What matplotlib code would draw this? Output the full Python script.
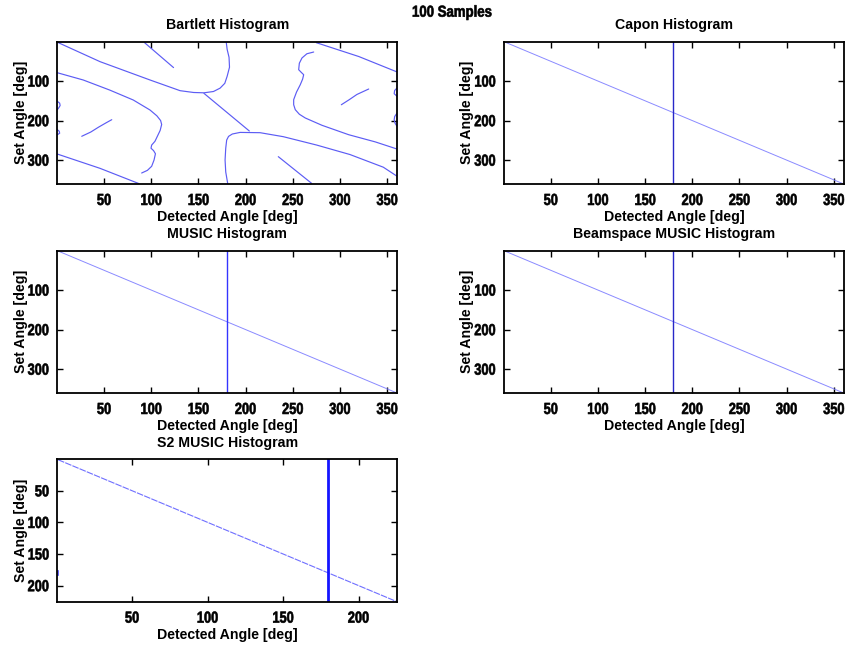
import numpy as np
import matplotlib
matplotlib.use("Agg")
import matplotlib.pyplot as plt
from matplotlib.patheffects import AbstractPathEffect
from matplotlib.transforms import Affine2D

TICK_FONT = ["Liberation Sans", "DejaVu Sans"]
LABEL_FONT = ["Liberation Sans", "DejaVu Sans"]

# ---- Histogram ridges: (detected angle, set angle) pairs in degrees ----
n_full = 360
n_s2 = 225

# Bartlett estimator: ambiguous ridges
bart_curves = [
    # upper-left band turning into the vertical ridge near 180 deg
    ([1.6, 45.8, 98.8, 130.6, 145.0, 156.0, 166.0, 173.0, 178.0, 180.5, 183.0, 182.5, 180.5, 179.5],
     [3, 51, 97.4, 124.4, 129.0, 129.8, 126.5, 118.0, 105.8, 88.0, 65.0, 40.0, 20.0, 1]),
    # left band bending back near 110 deg
    ([0.5, 28.0, 56.0, 81.0, 98.8, 106.0, 110.0, 111.1, 109.5, 106.5, 104.0, 100.5, 99.8, 102.5, 104.5, 103.0, 100.5, 96.0, 89.9],
     [79, 97.4, 122.8, 148, 173.4, 188.0, 200.0, 210.0, 225.0, 240.0, 252.5, 262.0, 270.0, 276.0, 284.0, 300.0, 315.7, 326.0, 332.7]),
    # lower-left band
    ([0.5, 45.8, 87.0],
     [284.7, 320.9, 359.5]),
    # short segment, left middle
    ([26.4, 36.0, 44.0, 52.0, 58.2],
     [239.8, 229.0, 217.0, 206.0, 197.8]),
    # short segment, top
    ([93.0, 123.7],
     [3, 66]),
    # central diagonal
    ([155.9, 204.0],
     [131.1, 226.4]),
    # lower vertical ridge near 180 deg turning into the lower-right band
    ([181.1, 179.0, 178.3, 179.0, 180.0, 182.0, 186.0, 194.2, 215.4, 240.0, 275.4, 310.7, 346.0, 360.0],
     [359.5, 330.0, 299.9, 270.0, 249.3, 240.0, 234.0, 230.0, 230.7, 240.8, 262.0, 286.0, 318.0, 340.0]),
    # right wiggly ridge near 255 deg
    ([272.2, 265.0, 259.8, 257.0, 256.3, 259.0, 261.6, 260.5, 258.0, 254.0, 251.0, 251.0, 252.7, 257.0, 263.3, 281.0, 309.3, 337.5, 360.5],
     [26.6, 31.0, 41.7, 55.0, 71.3, 78.0, 84.0, 95.0, 109.3, 128.0, 147.2, 160.0, 172.5, 184.0, 193.5, 212.0, 235.8, 254.0, 272.0]),
    # short segment, bottom right
    ([234.7, 270.0],
     [291.3, 358.8]),
    # upper-right band
    ([275.0, 320.0, 360.0],
     [3, 38.0, 76.5]),
    # short segment, right middle
    ([301.5, 310.0, 318.0, 330.5],
     [160.0, 147.0, 134.0, 120.2]),
    # wrap-around fragments at the edges
    ([0.5, 3.0, 3.5, 2.0, 0.5], [151.3, 156.0, 162.0, 168.0, 172.5]),
    ([0.5, 2.5, 3.0, 0.5], [223.0, 227.0, 232.0, 236.0]),
    ([360.5, 358.0, 357.5, 360.5], [117.6, 124.0, 132.0, 138.6]),
    ([360.5, 358.0, 357.5, 358.5, 360.5], [181.0, 190.0, 198.0, 207.0, 214.5]),
]

# Capon / MUSIC / Beamspace MUSIC: correct detections plus a fixed 180 deg ridge
diag_full_detected = [1, 360]
diag_full_set = [1, 360]
ridge_detected = 180

# S2 MUSIC
diag_s2_detected = [1, 225]
diag_s2_set = [1, 225]
s2_edge_detected = [1, 1]
s2_edge_set = [177, 183]

full_xticks = [50, 100, 150, 200, 250, 300, 350]
full_yticks = [100, 200, 300]
s2_xticks = [50, 100, 150, 200]
s2_yticks = [50, 100, 150, 200]


class TallHeavy(AbstractPathEffect):
    """Stretch glyphs vertically about the top or centre and thicken them."""

    def __init__(self, sy=1.25, anchor="center", stroke=0.45):
        super().__init__()
        self.sy = sy
        self.anchor = anchor
        self.stroke = stroke

    def draw_path(self, renderer, gc, tpath, affine, rgbFace=None):
        bb = tpath.get_extents(affine)
        cy = bb.y1 if self.anchor == "top" else 0.5 * (bb.y0 + bb.y1)
        stretch = Affine2D().translate(0, -cy).scale(1, self.sy).translate(0, cy)
        gc0 = renderer.new_gc()
        gc0.copy_properties(gc)
        gc0.set_linewidth(self.stroke)
        gc0.set_foreground(rgbFace if rgbFace is not None else "black")
        renderer.draw_path(gc0, tpath, affine + stretch, rgbFace)
        gc0.restore()


fig = plt.figure(figsize=(8.47, 6.48), dpi=100)
TICK_SIZE = 9.2


def make_axes(rect, title, n, xticks, yticks):
    ax = fig.add_axes(rect)
    ax.set_xlim(0.5, n + 0.5)
    ax.set_ylim(n + 0.5, 0.5)
    ax.set_xticks(xticks)
    ax.set_yticks(yticks)
    ax.tick_params(direction="in", length=4, width=1, top=True, right=True)
    ax.tick_params(axis="x", pad=7)
    ax.tick_params(axis="y", pad=6)
    for lab in ax.get_xticklabels():
        lab.set_family(TICK_FONT)
        lab.set_fontweight("bold")
        lab.set_fontsize(TICK_SIZE)
        lab.set_path_effects([TallHeavy(1.25, "top")])
    for lab in ax.get_yticklabels():
        lab.set_family(TICK_FONT)
        lab.set_fontweight("bold")
        lab.set_fontsize(TICK_SIZE)
        lab.set_path_effects([TallHeavy(1.25, "center")])
    for sp in ax.spines.values():
        sp.set_linewidth(1.3)
    ax.set_title(title, family=LABEL_FONT, fontweight="bold", fontsize=10.2, pad=9)
    ax.set_xlabel("Detected Angle [deg]", family=LABEL_FONT, fontweight="bold",
                  fontsize=10.2)
    ax.set_ylabel("Set Angle [deg]", family=LABEL_FONT, fontweight="bold",
                  fontsize=10.2)
    ax.xaxis.set_label_coords(0.5, -0.183)
    ax.yaxis.set_label_coords(-0.087, 0.5)
    return ax


W = 339.7 / 847
H = 142.3 / 648
L1 = 57.3 / 847
L2 = 504.0 / 847
B1 = (648 - 184.0) / 648
B2 = (648 - 393.0) / 648
B3 = (648 - 601.7) / 648

light = "#8a8aff"

ax = make_axes([L1, B1, W, H], "Bartlett Histogram", n_full, full_xticks, full_yticks)
for xs, ys in bart_curves:
    ax.plot(xs, ys, color="#5c5cf4", lw=0.85, solid_capstyle="round",
            solid_joinstyle="round")

ax = make_axes([L2, B1, W, H], "Capon Histogram", n_full, full_xticks, full_yticks)
ax.plot(diag_full_detected, diag_full_set, color=light, lw=0.7)
ax.axvline(ridge_detected, color="#2828c8", lw=1.0)

ax = make_axes([L1, B2, W, H], "MUSIC Histogram", n_full, full_xticks, full_yticks)
ax.plot(diag_full_detected, diag_full_set, color=light, lw=0.7)
ax.axvline(ridge_detected, color="#3434ff", lw=1.0)

ax = make_axes([L2, B2, W, H], "Beamspace MUSIC Histogram", n_full, full_xticks, full_yticks)
ax.plot(diag_full_detected, diag_full_set, color=light, lw=0.7)
ax.axvline(ridge_detected, color="#2828c8", lw=1.0)

ax = make_axes([L1, B3, W, H], "S2 MUSIC Histogram", n_s2, s2_xticks, s2_yticks)
ax.plot(diag_s2_detected, diag_s2_set, color="#6f6fff", lw=0.8, ls=(0, (6, 1)))
ax.axvline(ridge_detected, color="#1515ff", lw=2.0)
ax.plot(s2_edge_detected, s2_edge_set, color="#4a4aff", lw=1.2)

fig.text(452 / 847, 1 - 13 / 648, "100 Samples", family=TICK_FONT,
         fontweight="bold", fontsize=9.5, ha="center", va="center",
         path_effects=[TallHeavy(1.2, "center")])

fig.savefig("out.png", dpi=100)
